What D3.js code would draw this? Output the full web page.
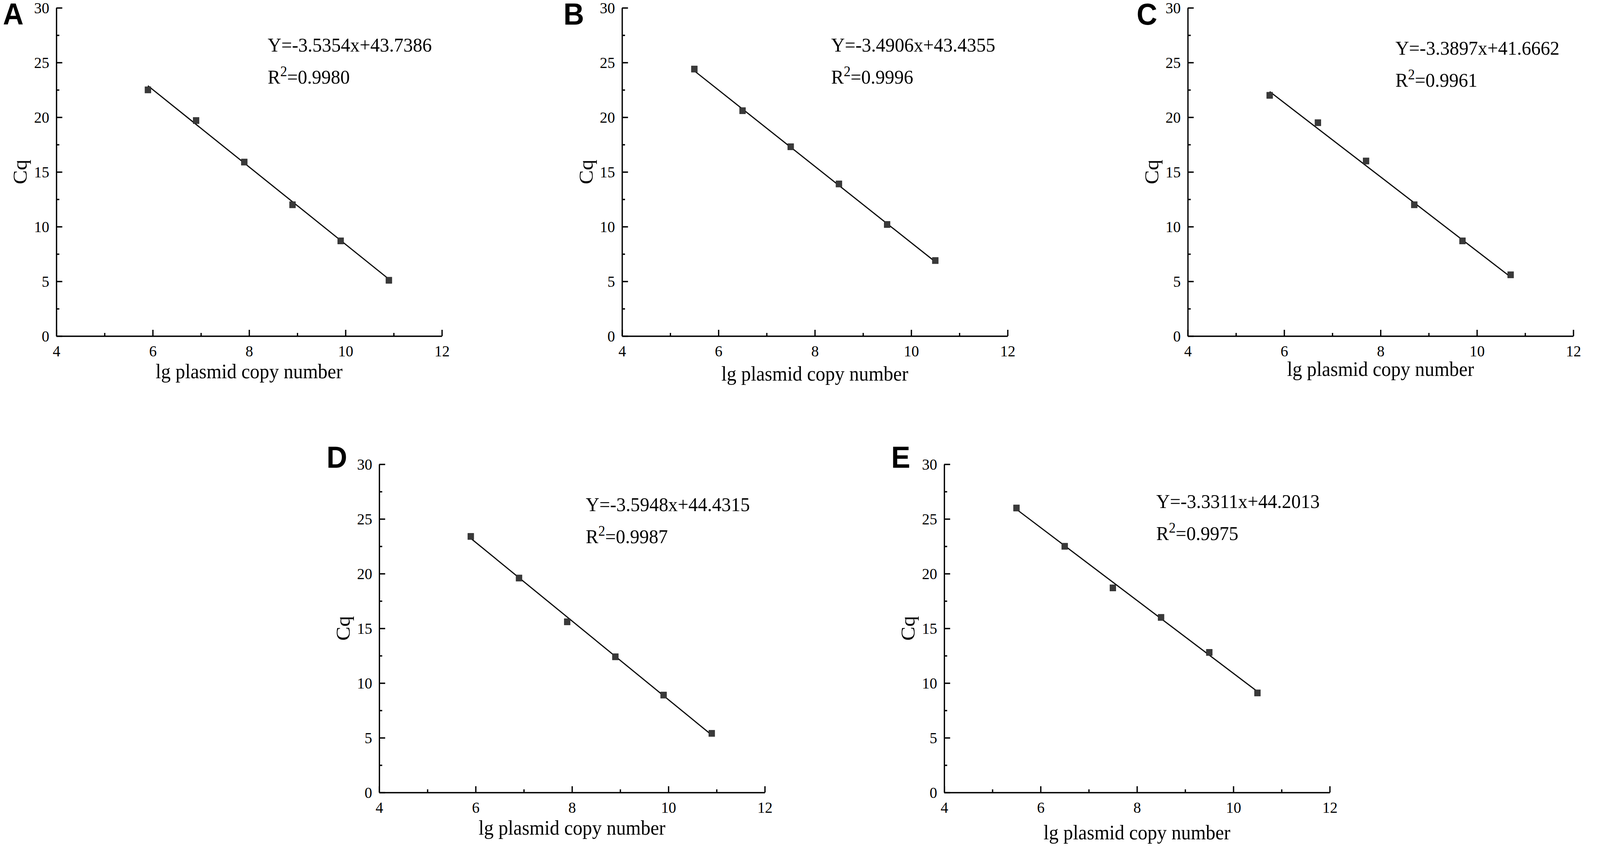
<!DOCTYPE html>
<html>
<head>
<meta charset="utf-8">
<script src="https://cdn.jsdelivr.net/npm/d3@7"></script>
<style>
  html, body { margin: 0; padding: 0; background: #fff; width: 100%; height: 100%; overflow: hidden; }
  svg { display: block; width: 100vw; height: 100vh; }
</style>
</head>
<body>
<svg id="chart" viewBox="0 0 4316 2188" preserveAspectRatio="none"></svg>
<script>
// ---------------- DATA ----------------
const panelLetters = ["A", "B", "C", "D", "E"];

const lgCopyA = [5.9, 6.9, 7.9, 8.9, 9.9, 10.9];
const cqA     = [22.5, 19.7, 15.9, 12.0, 8.7, 5.1];
const lgCopyB = [5.5, 6.5, 7.5, 8.5, 9.5, 10.5];
const cqB     = [24.4, 20.6, 17.3, 13.9, 10.2, 6.9];
const lgCopyC = [5.7, 6.7, 7.7, 8.7, 9.7, 10.7];
const cqC     = [22.0, 19.5, 16.0, 12.0, 8.7, 5.6];
const lgCopyD = [5.9, 6.9, 7.9, 8.9, 9.9, 10.9];
const cqD     = [23.4, 19.6, 15.6, 12.4, 8.9, 5.4];
const lgCopyE = [5.5, 6.5, 7.5, 8.5, 9.5, 10.5];
const cqE     = [26.0, 22.5, 18.7, 16.0, 12.8, 9.1];

const slopes     = [-3.5354, -3.4906, -3.3897, -3.5948, -3.3311];
const intercepts = [43.7386, 43.4355, 41.6662, 44.4315, 44.2013];
const equationLabels = ["Y=-3.5354x+43.7386", "Y=-3.4906x+43.4355", "Y=-3.3897x+41.6662",
                        "Y=-3.5948x+44.4315", "Y=-3.3311x+44.2013"];
const r2Labels = ["=0.9980", "=0.9996", "=0.9961", "=0.9987", "=0.9975"];

const xMajorTicks = [4, 6, 8, 10, 12];
const xMinorTicks = [5, 7, 9, 11];
const yMajorTicks = [0, 5, 10, 15, 20, 25, 30];
const yMinorTicks = [2.5, 7.5, 12.5, 17.5, 22.5, 27.5];
const xDomain = [4, 12];
const yDomain = [0, 30];
const xAxisTitle = "lg plasmid copy number";
const yAxisTitle = "Cq";

const xSeries = [lgCopyA, lgCopyB, lgCopyC, lgCopyD, lgCopyE];
const ySeries = [cqA, cqB, cqC, cqD, cqE];

// ---------------- LAYOUT ----------------
const plotW = 1040, plotH = 840;
const layout = [
  { ox: 152,  oy: 20,   letterDx: -144, letterDy: 43, eqDx: 570, eqDy: 0, xlDy: 0 },
  { ox: 1678, oy: 20,   letterDx: -158, letterDy: 43, eqDx: 564, eqDy: 0, xlDy: 6 },
  { ox: 3204, oy: 20,   letterDx: -138, letterDy: 43, eqDx: 560, eqDy: 8, xlDy: -6 },
  { ox: 1023, oy: 1188, letterDx: -142, letterDy: 9,  eqDx: 557, eqDy: 8, xlDy: 0 },
  { ox: 2547, oy: 1188, letterDx: -143, letterDy: 9,  eqDx: 572, eqDy: 0, xlDy: 12 }
];

const serif = "'Liberation Serif', 'Times New Roman', Times, serif";
const sans  = "'Liberation Sans', Arial, Helvetica, sans-serif";

const svg = d3.select("#chart");
svg.append("rect").attr("width", 4316).attr("height", 2188).attr("fill", "#fff");

panelLetters.forEach((letter, i) => {
  const L = layout[i];
  const g = svg.append("g").attr("transform", `translate(${L.ox},${L.oy})`);

  const x = d3.scaleLinear().domain(xDomain).range([0, plotW]);
  const y = d3.scaleLinear().domain(yDomain).range([plotH, 0]);

  const gx = g.append("g").attr("transform", `translate(0,${plotH})`)
    .call(d3.axisBottom(x).tickValues(xMajorTicks).tickSize(-16).tickSizeOuter(0)
      .tickPadding(23).tickFormat(d3.format("d")));
  const gxm = g.append("g").attr("transform", `translate(0,${plotH})`)
    .call(d3.axisBottom(x).tickValues(xMinorTicks).tickSize(-8).tickSizeOuter(0).tickFormat(""));
  gxm.select(".domain").remove();

  const gy = g.append("g")
    .call(d3.axisLeft(y).tickValues(yMajorTicks).tickSize(-16).tickSizeOuter(0)
      .tickPadding(19).tickFormat(d3.format("d")));
  const gym = g.append("g")
    .call(d3.axisLeft(y).tickValues(yMinorTicks).tickSize(-8).tickSizeOuter(0).tickFormat(""));
  gym.select(".domain").remove();

  [gx, gxm, gy, gym].forEach(a => {
    a.selectAll(".domain").attr("stroke", "#000").attr("stroke-width", 3.5);
    a.selectAll(".tick line").attr("stroke", "#000").attr("stroke-width", 3.5);
    a.selectAll(".tick text").attr("fill", "#000")
      .style("font-family", serif).style("font-size", "41px");
  });

  // fit line from the regression equation
  const xs = xSeries[i], ys = ySeries[i];
  const x0 = xs[0], x1 = xs[xs.length - 1];
  const lineData = [x0, x1].map(v => [v, slopes[i] * v + intercepts[i]]);
  g.append("path")
    .datum(lineData)
    .attr("d", d3.line().x(d => x(d[0])).y(d => y(d[1])))
    .attr("fill", "none").attr("stroke", "#000").attr("stroke-width", 3);

  // points
  const sq = 16;
  g.selectAll("rect.pt").data(xs.map((v, k) => [v, ys[k]])).enter()
    .append("rect").attr("class", "pt")
    .attr("x", d => x(d[0]) - sq / 2).attr("y", d => y(d[1]) - sq / 2)
    .attr("width", sq).attr("height", sq)
    .attr("fill", "#3a3a3a").attr("stroke", "#262626").attr("stroke-width", 1);

  // equation text
  const eqX = L.eqDx, eqY = 112 + L.eqDy;
  g.append("text").attr("x", eqX).attr("y", eqY)
    .style("font-family", serif).style("font-size", "51px").attr("fill", "#000")
    .text(equationLabels[i]);
  const r2 = g.append("text").attr("x", eqX).attr("y", eqY + 82)
    .style("font-family", serif).style("font-size", "51px").attr("fill", "#000");
  r2.append("tspan").text("R");
  r2.append("tspan").attr("dy", -19).style("font-size", "37px").text("2");
  r2.append("tspan").attr("dy", 19).text(r2Labels[i]);

  // axis titles
  g.append("text")
    .attr("x", plotW / 2).attr("y", plotH + 108 + L.xlDy)
    .attr("text-anchor", "middle")
    .style("font-family", serif).style("font-size", "52px").attr("fill", "#000")
    .text(xAxisTitle);
  g.append("text")
    .attr("transform", `translate(-80,${plotH / 2}) rotate(-90)`)
    .attr("text-anchor", "middle")
    .style("font-family", serif).style("font-size", "54px").attr("fill", "#000")
    .text(yAxisTitle);

  // panel letter
  g.append("text")
    .attr("x", L.letterDx).attr("y", L.letterDy)
    .style("font-family", sans).style("font-weight", "bold").style("font-size", "77px")
    .attr("fill", "#000")
    .text(letter);
});
</script>
</body>
</html>
